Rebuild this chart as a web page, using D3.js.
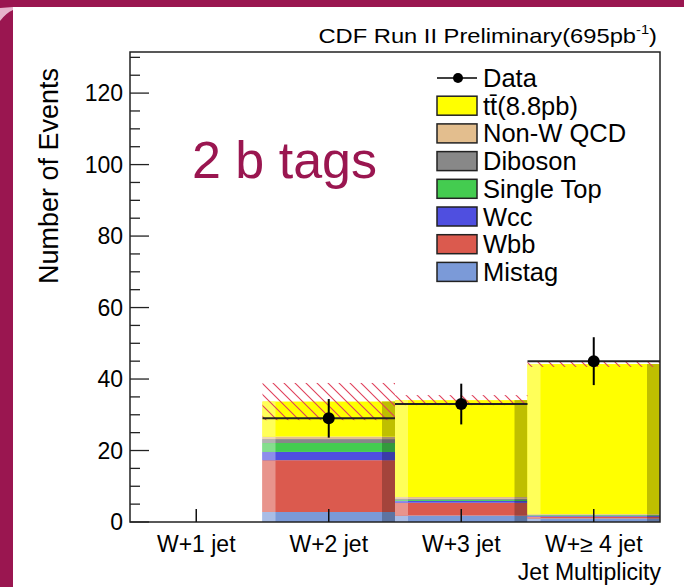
<!DOCTYPE html>
<html lang="en">
<head>
<meta charset="UTF-8">
<title>2 b tags - Jet Multiplicity</title>
<script src="https://d3js.org/d3.v7.min.js"></script>
<style>
  html, body { margin: 0; padding: 0; background: #fff; }
  svg { display: block; }
  text { font-family: "Liberation Sans", Arial, sans-serif; fill: #000; }
</style>
</head>
<body>
<svg id="canvas" width="684" height="587"></svg>
<script>
// ---- data ----
let bins = ["W+1 jet", "W+2 jet", "W+3 jet", "W+\u2265 4 jet"];
let mistag    = [0, 2.8, 1.8, 1.0];
let wbb       = [0, 14.5, 3.6, 0.5];
let wcc       = [0, 2.3, 0.5, 0.2];
let singleTop = [0, 2.5, 0.3, 0.2];
let diboson   = [0, 1.1, 0.3, 0.1];
let nonW      = [0, 0.7, 0.5, 0.2];
let ttbar     = [0, 9.8, 27.1, 42.0];
let bandErr   = [0, 5.2, 1.4, 0.8];
let dataVals  = [0, 29, 33, 45];
let dataErr   = [0, 5.4, 5.7, 6.7];
let yTicks    = [0, 20, 40, 60, 80, 100, 120];

let series = [
  {name: "Mistag",      vals: mistag,    color: "#7b9ad8"},
  {name: "Wbb",         vals: wbb,       color: "#db5a4e"},
  {name: "Wcc",         vals: wcc,       color: "#4f4fe0"},
  {name: "Single Top",  vals: singleTop, color: "#44cc50"},
  {name: "Diboson",     vals: diboson,   color: "#888888"},
  {name: "Non-W QCD",   vals: nonW,      color: "#e3be8e"},
  {name: "tt\u0304(8.8pb)", vals: ttbar, color: "#ffff00"}
];

let svg = d3.select("#canvas");
let maroon = "#9a1650";

// slide frame
svg.append("rect").attr("x", 0).attr("y", 0).attr("width", 684).attr("height", 7).attr("fill", maroon);
svg.append("rect").attr("x", 0).attr("y", 0).attr("width", 13).attr("height", 587).attr("fill", maroon);
svg.append("path").attr("d", "M0,8 L13,7 L13,10 Q6,13 0,21 Z").attr("fill", "#e6b3cb");

let pLeft = 130, pRight = 660, pTop = 52, pBottom = 522;
let x = d3.scaleBand().domain(bins).range([pLeft, pRight]).padding(0);
let y = d3.scaleLinear().domain([0, 131.5]).range([pBottom, pTop]);

// hatch pattern
let defs = svg.append("defs");
let pat = defs.append("pattern").attr("id", "hatch").attr("patternUnits", "userSpaceOnUse")
  .attr("width", 11).attr("height", 11);
pat.append("path").attr("d", "M0,0 L11,11 M-3,8 L3,14 M8,-3 L14,3")
  .attr("stroke", "#e0405a").attr("stroke-width", 1.1);

// stacked bars with ROOT style light left / dark right strips
let stackData = bins.map((b, i) => {
  let acc = 0;
  return series.map(s => {
    let y0 = acc; acc += s.vals[i];
    return {bin: b, y0: y0, y1: acc, color: s.color};
  });
}).flat().filter(d => d.y1 > d.y0);

let bw = x.bandwidth();
let strip = 13;
let g = svg.append("g");
stackData.forEach(d => {
  let x0 = x(d.bin);
  let yt = y(d.y1), h = y(d.y0) - y(d.y1);
  let c = d3.color(d.color);
  g.append("rect").attr("x", x0).attr("y", yt).attr("width", bw).attr("height", h).attr("fill", d.color);
  g.append("rect").attr("x", x0).attr("y", yt).attr("width", strip).attr("height", h)
    .attr("fill", d3.interpolateRgb(c, "#fff")(0.35));
  g.append("rect").attr("x", x0 + bw - strip).attr("y", yt).attr("width", strip).attr("height", h)
    .attr("fill", d3.interpolateRgb(c, "#000")(0.25));
});

// uncertainty band
bins.forEach((b, i) => {
  if (bandErr[i] <= 0) return;
  let tot = series.reduce((s, ser) => s + ser.vals[i], 0);
  svg.append("rect").attr("x", x(b)).attr("y", y(tot + bandErr[i]))
    .attr("width", bw).attr("height", y(tot - bandErr[i]) - y(tot + bandErr[i]))
    .attr("fill", "url(#hatch)");
});

// data points
bins.forEach((b, i) => {
  if (dataVals[i] <= 0) return;
  let cx = x(b) + bw / 2;
  svg.append("line").attr("x1", x(b)).attr("x2", x(b) + bw)
    .attr("y1", y(dataVals[i])).attr("y2", y(dataVals[i]))
    .attr("stroke", "#222").attr("stroke-width", 2);
  svg.append("line").attr("x1", cx).attr("x2", cx)
    .attr("y1", y(dataVals[i] + dataErr[i])).attr("y2", y(dataVals[i] - dataErr[i]))
    .attr("stroke", "#000").attr("stroke-width", 2);
  svg.append("circle").attr("cx", cx).attr("cy", y(dataVals[i])).attr("r", 6).attr("fill", "#000");
});

// frame
svg.append("rect").attr("x", pLeft).attr("y", pTop).attr("width", pRight - pLeft).attr("height", pBottom - pTop)
  .attr("fill", "none").attr("stroke", "#222").attr("stroke-width", 1.5);

// y axis ticks (inward)
let minor = d3.range(0, 131, 5);
svg.append("g").selectAll("line").data(minor).join("line")
  .attr("x1", pLeft).attr("x2", d => pLeft + (d % 20 === 0 ? 19 : 10))
  .attr("y1", d => y(d)).attr("y2", d => y(d))
  .attr("stroke", "#222").attr("stroke-width", 1.3);
svg.append("g").selectAll("text").data(yTicks).join("text")
  .attr("x", 123).attr("y", d => y(d) + 8).attr("text-anchor", "end")
  .attr("font-size", 23).text(d => d);

// x ticks at bin centres
svg.append("g").selectAll("line").data(bins).join("line")
  .attr("x1", d => x(d) + bw / 2).attr("x2", d => x(d) + bw / 2)
  .attr("y1", pBottom).attr("y2", pBottom - 13)
  .attr("stroke", "#111").attr("stroke-width", 1.5);
svg.append("g").selectAll("text").data(bins).join("text")
  .attr("x", d => x(d) + bw / 2).attr("y", 552).attr("text-anchor", "middle")
  .attr("font-size", 23).text(d => d);

svg.append("text").attr("x", 661).attr("y", 580).attr("text-anchor", "end")
  .attr("font-size", 23).text("Jet Multiplicity");

svg.append("text").attr("transform", "translate(58,176) rotate(-90)").attr("text-anchor", "middle")
  .attr("font-size", 27).text("Number of Events");

// title
let title = svg.append("text").attr("transform", "translate(657,43) scale(1.13,1)")
  .attr("text-anchor", "end").attr("font-size", 21);
title.append("tspan").text("CDF Run II Preliminary(695pb");
title.append("tspan").attr("dy", -9).attr("font-size", 13).text("-1");
title.append("tspan").attr("dy", 9).text(")");

svg.append("text").attr("x", 192).attr("y", 178).attr("font-size", 52)
  .style("fill", maroon).text("2 b tags");

// legend
let lx = 437, ly = 78, pitch = 27.7;
svg.append("line").attr("x1", lx).attr("x2", lx + 40).attr("y1", ly).attr("y2", ly)
  .attr("stroke", "#000").attr("stroke-width", 1.5);
svg.append("circle").attr("cx", lx + 21).attr("cy", ly).attr("r", 5).attr("fill", "#000");
svg.append("text").attr("x", lx + 46).attr("y", ly + 9).attr("font-size", 25.5).text("Data");
series.slice().reverse().forEach((s, k) => {
  let yy = ly + pitch * (k + 1);
  svg.append("rect").attr("x", lx).attr("y", yy - 9.5).attr("width", 40).attr("height", 19)
    .attr("fill", s.color).attr("stroke", "#222").attr("stroke-width", 1.5);
  svg.append("text").attr("x", lx + 46).attr("y", yy + 9).attr("font-size", 25.5).text(s.name);
});
</script>
</body>
</html>
